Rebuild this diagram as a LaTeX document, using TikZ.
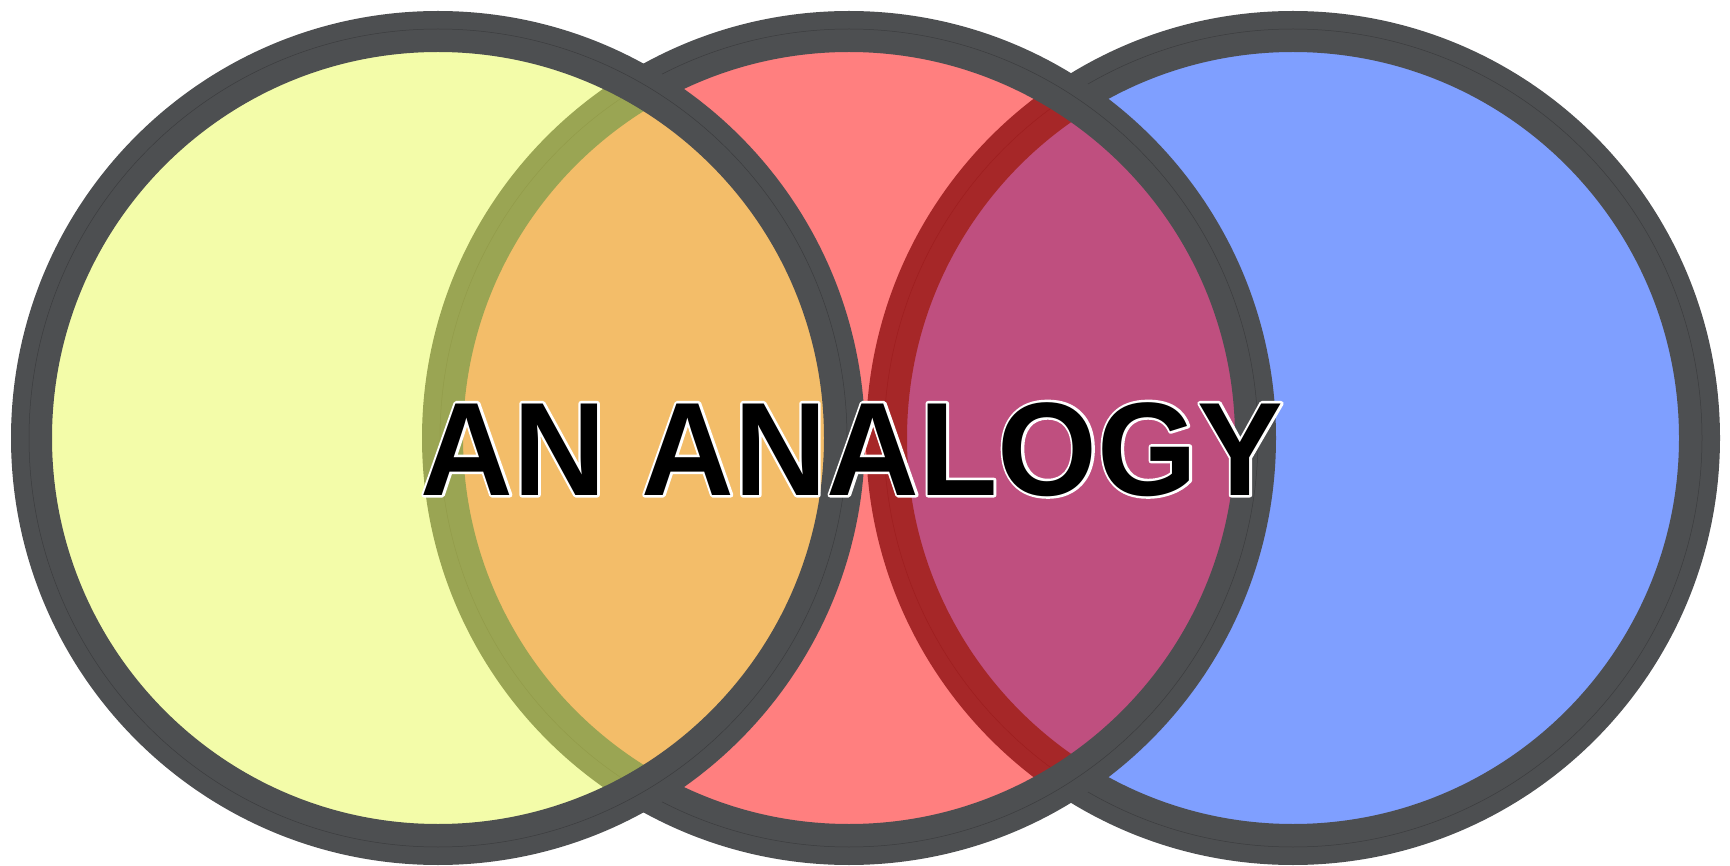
\documentclass[tikz,border=0pt]{standalone}
\usepackage{fontspec}
\setmainfont{Liberation Sans}
\newfontfamily\titlefont{Liberation Sans}[FakeStretch=0.965]
\definecolor{rim}{HTML}{4D4F51}
\definecolor{rimline}{HTML}{3C3D3F}
\definecolor{fillY}{HTML}{E8FB55}
\definecolor{fillR}{HTML}{FF0000}
\definecolor{fillB}{HTML}{0040FF}
\newcommand{\outlinedtext}[1]{\rlap{\special{pdf:literal direct 1 Tr 5 w 1 j 1 1 1 RG}#1\special{pdf:literal direct 0 Tr 1 w 0 j 0 0 0 RG}}#1}
\tikzset{
  ringband/.style={fill=rim, even odd rule},
  ringline/.style={draw=rimline, line width=0.5pt},
  disc/.style={fill=#1, fill opacity=0.5},
  titletext/.style={font=\titlefont\bfseries\fontsize{133}{133}\selectfont, text=black, inner sep=0pt, anchor=base}
}
\begin{document}
\begin{tikzpicture}[x=1pt,y=-1pt]
\useasboundingbox[fill=white] (0,0) rectangle (1730,866);
\coordinate (c1) at (438,438);
\coordinate (c2) at (849,438);
\coordinate (c3) at (1293,438);
% blue circle
\fill[disc=fillB] (c3) circle[radius=388];
\fill[ringband] (c3) circle[radius=427] (c3) circle[radius=386];
\draw[ringline] (c3) circle[radius=409];
% red circle
\fill[disc=fillR] (c2) circle[radius=388];
\fill[ringband] (c2) circle[radius=427] (c2) circle[radius=386];
\draw[ringline] (c2) circle[radius=409];
% yellow circle
\fill[disc=fillY] (c1) circle[radius=388];
\fill[ringband] (c1) circle[radius=427] (c1) circle[radius=386];
\draw[ringline] (c1) circle[radius=409];
% title
\node[titletext] (title) at (852,495) {\outlinedtext{AN ANALOGY}};
\end{tikzpicture}
\end{document}
